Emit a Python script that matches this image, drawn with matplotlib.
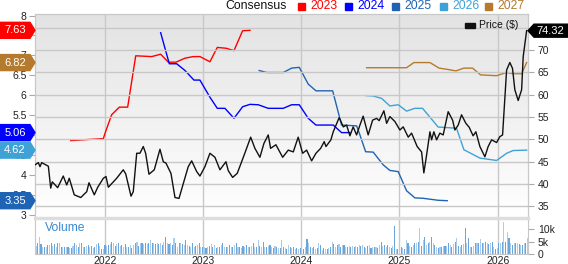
import numpy as np
import pandas as pd
import matplotlib
matplotlib.use("Agg")
import matplotlib.pyplot as plt
from matplotlib.patches import Polygon, Rectangle
from matplotlib.colors import LinearSegmentedColormap
from matplotlib.transforms import IdentityTransform

plt.rcParams["font.family"] = ["Liberation Sans", "DejaVu Sans"]

W, H = 568, 264

# price, decimal years
price_t = [2021.287, 2021.321, 2021.338, 2021.355, 2021.423, 2021.447, 2021.463, 2021.518,
           2021.575, 2021.610, 2021.636, 2021.687, 2021.753, 2021.814, 2021.837, 2021.891,
           2021.926, 2021.983, 2022.010, 2022.034, 2022.119, 2022.186, 2022.211, 2022.265,
           2022.288, 2022.323, 2022.356, 2022.390, 2022.414, 2022.448, 2022.502, 2022.560,
           2022.594, 2022.621, 2022.672, 2022.713, 2022.754, 2022.808, 2022.848, 2022.883,
           2022.934, 2022.967, 2023.018, 2023.069, 2023.120, 2023.171, 2023.232, 2023.256,
           2023.300, 2023.347, 2023.392, 2023.436, 2023.484, 2023.527, 2023.578, 2023.619,
           2023.663, 2023.687, 2023.741, 2023.810, 2023.867, 2023.918, 2023.968, 2024.013,
           2024.054, 2024.105, 2024.149, 2024.197, 2024.233, 2024.251, 2024.301, 2024.325,
           2024.386, 2024.427, 2024.461, 2024.495, 2024.528, 2024.563, 2024.597, 2024.630,
           2024.681, 2024.726, 2024.767, 2024.793, 2024.841, 2024.869, 2024.902, 2024.953,
           2025.004, 2025.038, 2025.089, 2025.123, 2025.180, 2025.225, 2025.248, 2025.276,
           2025.310, 2025.327, 2025.350, 2025.378, 2025.411, 2025.445, 2025.496, 2025.541,
           2025.564, 2025.598, 2025.632, 2025.676, 2025.710, 2025.750, 2025.778, 2025.819,
           2025.870, 2025.903, 2025.938, 2025.989, 2026.022, 2026.050, 2026.091, 2026.124,
           2026.151, 2026.175, 2026.209, 2026.244, 2026.260, 2026.295]
price = [44.3, 44.8, 43.9, 44.8, 44.0, 39.1, 40.5, 39.2,
         41.8, 39.8, 41.3, 37.6, 37.0, 38.3, 40.3, 37.6,
         39.3, 41.3, 41.7, 39.3, 41.3, 43.2, 42.3, 37.3,
         38.3, 46.9, 46.9, 48.4, 46.9, 42.2, 43.2, 47.8,
         45.0, 44.7, 42.4, 37.0, 36.8, 40.9, 43.9, 45.2,
         42.8, 41.8, 43.9, 46.9, 46.0, 43.2, 45.0, 43.0,
         41.5, 42.4, 45.0, 47.6, 50.5, 48.0, 46.0, 49.1,
         51.0, 48.0, 48.8, 46.0, 47.6, 47.2, 50.5, 46.9,
         47.6, 45.2, 46.9, 48.0, 49.5, 48.4, 49.9, 51.7,
         54.9, 52.8, 53.2, 50.8, 52.8, 51.0, 53.2, 55.2,
         51.0, 54.3, 54.7, 54.2, 56.4, 53.6, 55.1, 54.0,
         52.1, 52.8, 50.5, 51.4, 48.4, 47.2, 42.5, 46.5,
         51.7, 49.9, 51.7, 49.9, 51.4, 51.0, 56.2, 54.3,
         52.1, 53.2, 55.5, 53.6, 52.7, 50.8, 51.7, 48.4,
         46.1, 48.4, 49.9, 49.3, 50.6, 51.0, 65.5, 67.2,
         65.9, 61.1, 58.7, 61.1, 68.5, 74.32]

# consensus EPS by fiscal year
eps23_t = [2021.651, 2021.983, 2022.007, 2022.068, 2022.146, 2022.231, 2022.313, 2022.476,
           2022.567, 2022.645, 2022.723, 2022.815, 2022.899, 2022.967, 2023.069, 2023.144,
           2023.232, 2023.314, 2023.402, 2023.477]
eps23 = [4.86, 4.91, 5.09, 5.51, 5.70, 5.70, 6.99, 6.97,
         7.03, 6.83, 6.83, 6.93, 6.97, 6.97, 6.84, 7.20,
         7.18, 7.12, 7.62, 7.63]

eps24_t = [2022.567, 2022.655, 2022.730, 2022.815, 2022.906, 2022.967, 2023.069, 2023.144,
           2023.222, 2023.314, 2023.402, 2023.477, 2023.561, 2023.663, 2023.816, 2023.901,
           2023.979, 2024.070, 2024.149, 2024.325, 2024.410, 2024.495]
eps24 = [7.57, 6.79, 6.79, 6.62, 6.38, 6.38, 5.95, 5.67,
         5.67, 5.42, 5.71, 5.77, 5.76, 5.67, 5.67, 5.76,
         5.76, 5.42, 5.25, 5.25, 5.06, 5.06]

eps25_t = [2023.571, 2023.647, 2023.816, 2023.901, 2023.979, 2024.070, 2024.149, 2024.319,
           2024.410, 2024.563, 2024.590, 2024.655, 2024.732, 2024.834, 2024.902, 2024.987,
           2025.072, 2025.157, 2025.241, 2025.394, 2025.486]
eps25 = [6.62, 6.57, 6.57, 6.68, 6.70, 6.28, 6.11, 6.11,
         5.25, 5.23, 5.05, 4.58, 4.57, 4.25, 4.11, 4.08,
         3.60, 3.42, 3.41, 3.36, 3.35]

eps26_t = [2024.658, 2024.732, 2024.818, 2024.902, 2024.987, 2025.072, 2025.157, 2025.235,
           2025.394, 2025.581, 2025.656, 2025.819, 2025.989, 2026.091, 2026.158, 2026.295]
eps26 = [5.99, 5.98, 5.92, 5.73, 5.76, 5.60, 5.67, 5.67,
         5.20, 5.17, 4.63, 4.42, 4.36, 4.54, 4.61, 4.62]

eps27_t = [2024.665, 2025.072, 2025.147, 2025.310, 2025.404, 2025.486, 2025.574, 2025.656,
           2025.744, 2025.826, 2025.989, 2026.091, 2026.158, 2026.244, 2026.295]
eps27 = [6.69, 6.69, 6.82, 6.82, 6.68, 6.65, 6.61, 6.68,
         6.68, 6.51, 6.49, 6.57, 6.54, 6.54, 6.82]

# weekly volume, thousands
volume = [3.3, 4.3, 6.8, 4.1, 3.0, 2.7, 3.0, 3.7, 3.7, 4.3, 3.3, 3.9, 3.0, 4.3, 4.6, 2.7,
          3.0, 2.7, 3.0, 2.7, 2.6, 2.3, 3.3, 4.6, 3.7, 3.0, 4.3, 4.3, 2.7, 3.0, 3.3, 3.7,
          2.7, 3.3, 2.6, 3.0, 4.1, 4.3, 3.4, 2.0, 1.9, 3.7, 3.3, 3.7, 3.9, 5.0, 4.3, 3.3,
          3.9, 4.3, 3.4, 3.7, 3.0, 3.9, 3.0, 2.7, 3.7, 2.3, 3.7, 4.6, 5.0, 3.3, 4.3, 4.3,
          3.9, 4.3, 4.1, 4.6, 5.7, 4.3, 4.3, 3.9, 4.3, 3.9, 4.3, 3.7, 5.0, 7.0, 4.3, 3.9,
          4.6, 3.7, 6.4, 4.3, 2.7, 4.6, 4.3, 3.9, 3.7, 5.7, 3.7, 3.4, 2.7, 4.3, 3.0, 3.4,
          3.7, 4.6, 2.7, 2.7, 2.7, 2.3, 3.0, 3.3, 3.9, 3.0, 3.7, 2.3, 2.7, 3.0, 3.7, 4.3,
          3.0, 2.7, 3.0, 3.7, 2.7, 3.0, 3.7, 4.3,
          2.7, 3.0, 2.3, 3.3, 2.7, 3.7, 3.0, 2.7, 3.3, 4.3, 3.0, 2.7, 5.7, 3.3, 3.0, 5.0,
          3.0, 2.7, 3.3, 3.7, 3.0, 2.3, 3.3, 2.7,
          2.3, 2.3, 5.7, 2.7, 2.6, 1.9, 3.7, 3.0, 2.3, 3.0, 2.0, 2.3, 1.9, 2.3, 2.7, 1.9,
          3.0, 6.0, 4.6, 2.7, 2.3, 2.7, 1.9, 2.3, 4.6, 3.7, 1.6, 2.3, 1.9, 1.9, 2.3, 3.0,
          5.0, 3.9, 3.0, 3.7, 3.9, 3.0, 3.7, 3.7, 3.0, 2.7, 3.3, 2.7, 3.3, 3.0, 3.4, 3.0,
          3.7, 3.3, 3.7, 3.0, 2.6, 3.3, 3.7, 2.6, 3.0, 3.0, 2.7, 2.3, 3.7, 5.0, 3.3, 3.7,
          3.0, 3.7, 2.7, 2.3, 3.3, 11.4, 1.9, 2.0, 2.3, 2.7, 2.3, 1.9, 5.7, 4.3, 3.3, 2.7,
          3.7, 4.3, 4.6, 5.0, 10.4, 3.3, 5.7, 7.0, 3.7, 4.3, 5.0, 7.0, 4.3, 3.7, 2.7, 2.3,
          2.7, 3.0, 3.3, 3.4, 3.4, 4.3, 3.7, 3.0, 4.1, 5.0, 6.4, 3.3, 3.0, 3.7, 3.9, 10.4,
          4.3, 6.4, 3.0, 3.0, 3.3, 4.3, 4.3, 4.3, 6.0, 4.6, 4.3, 5.0, 4.3, 3.9, 4.6, 5.0,
          3.0, 1.9, 2.3, 4.6, 4.3, 5.0, 13.1, 5.0, 9.1, 6.4, 4.3, 3.7, 4.3, 4.6, 4.3, 3.9,
          3.7, 3.7, 4.3, 4.6, 6.4]

years = [2022, 2023, 2024, 2025, 2026]
price_ticks = [35, 40, 45, 50, 55, 60, 65, 70, 75]
eps_ticks = [3, 3.5, 4, 4.5, 5, 5.5, 6, 6.5, 7, 7.5, 8]
vol_ticks = [0, 5, 10]
vol_labels = ["0", "5k", "10k"]

series = [("2023", eps23_t, eps23, "#ff0000"),
          ("2024", eps24_t, eps24, "#0000ff"),
          ("2025", eps25_t, eps25, "#1f64b4"),
          ("2026", eps26_t, eps26, "#3fa2d6"),
          ("2027", eps27_t, eps27, "#b57a2e")]


def fx(x):
    return x / W


def fy(y):
    return 1 - y / H


fig = plt.figure(figsize=(W / 100, H / 100), dpi=100)
rect = [fx(35), fy(217), 493 / W, 203 / H]
XLIM = (2021.287, 2026.309)

# gradient background
bg = fig.add_axes(rect, zorder=-1)
grad = LinearSegmentedColormap.from_list("bg", ["#ffffff", "#e3e3e3"])
bg.imshow(np.linspace(0, 1, 200).reshape(-1, 1), aspect="auto", cmap=grad,
          origin="lower", extent=[0, 1, 0, 1])
bg.axis("off")

ax = fig.add_axes(rect)
ax.patch.set_alpha(0)
axp = ax.twinx()

ax.set_xlim(*XLIM)
ax.set_ylim(2.94, 8.04)
axp.set_ylim(32.64, 78.05)

for name, t, v, c in series:
    ax.plot(t, v, color=c, lw=1.0, zorder=3)
axp.plot(price_t, price, color="#111111", lw=1.0, zorder=4)

ax.set_xticks(years)
ax.tick_params(axis="x", length=0, labelbottom=False)
ax.grid(axis="x", color="#c8c8c8", lw=1)
ax.set_yticks(eps_ticks)
ax.set_yticklabels(["%g" % e for e in eps_ticks])
ax.tick_params(axis="y", length=4, width=0.8, color="#aaaaaa", pad=2,
               labelsize=7.5, labelcolor="#222222")

axp.set_yticks(price_ticks)
axp.tick_params(axis="y", length=4, width=0.8, color="#aaaaaa", pad=3,
                labelsize=7.5, labelcolor="#222222")
axp.grid(axis="y", color="#c8c8c8", lw=1)
axp.set_axisbelow(True)

for a in (ax, axp):
    for s in ("left", "right", "top"):
        a.spines[s].set_color("#c8c8c8")
    a.spines["bottom"].set_visible(False)

# volume panel
axv = fig.add_axes([fx(35), fy(254), 493 / W, 36 / H])
vol_dates = np.linspace(XLIM[0] + 0.01, XLIM[1] - 0.005, len(volume))
vcol = ["#6aa6da" if i % 2 else "#aacdee" for i in range(len(volume))]
axv.bar(vol_dates, volume, width=0.011, color=vcol, zorder=2)
axv.set_xlim(*XLIM)
axv.set_ylim(0, 14.6)
axv.set_xticks(years)
axv.set_xticklabels([str(y) for y in years])
axv.tick_params(axis="x", length=0, pad=1.5, labelsize=7.5, labelcolor="#222222")
axv.grid(axis="x", color="#c8c8c8", lw=1)
axv.set_axisbelow(True)
axv.yaxis.tick_right()
axv.set_yticks(vol_ticks)
axv.set_yticklabels(vol_labels)
axv.tick_params(axis="y", length=4, width=0.8, color="#aaaaaa", pad=3,
                labelsize=7.5, labelcolor="#222222")
for s in ("left", "right", "bottom"):
    axv.spines[s].set_color("#c8c8c8")
axv.spines["top"].set_color("#dddddd")
axv.spines["top"].set_linewidth(2.5)
fig.text(fx(45), fy(228), "Volume", color="#3a8ad0", fontsize=8.7, va="center")

# header legend
fig.text(fx(225), fy(6), "Consensus", fontsize=8.8, va="center", color="#111111")
hx = [297.5, 344.5, 391.5, 439.5, 485.0]
for (name, t, v, c), x0 in zip(series, hx):
    fig.add_artist(Rectangle((fx(x0), fy(9.5)), 7 / W, 7 / H, color=c,
                             transform=fig.transFigure))
    fig.text(fx(x0 + 12.5), fy(6), name, color=c, fontsize=8.8, va="center")

# price legend inside plot
fig.add_artist(Rectangle((fx(465), fy(27.5)), 10 / W, 5 / H, color="#111111",
                         transform=fig.transFigure))
fig.text(fx(479), fy(25.5), "Price ($)", fontsize=7.5, va="center", color="#111111")

fig.canvas.draw()


# value tags on the left (last consensus values)
def left_tag(val, color):
    yc = ax.transData.transform((XLIM[0], val))[1]
    h = 8
    pts = [(0, yc - h), (30, yc - h), (35, yc), (30, yc + h), (0, yc + h)]
    fig.add_artist(Polygon(pts, closed=True, color=color, transform=IdentityTransform(),
                           zorder=10))
    fig.text(15 / W, yc / H, "%.2f" % val, color="white", fontsize=8,
             ha="center", va="center", zorder=11)


for name, t, v, c in series:
    left_tag(v[-1], c)

# last price tag on the right
yc = axp.transData.transform((XLIM[1], price[-1]))[1]
h = 6.5
pts = [(528, yc), (534, yc - h), (W, yc - h), (W, yc + h), (534, yc + h)]
fig.add_artist(Polygon(pts, closed=True, color="#000000", transform=IdentityTransform(),
                       zorder=10))
fig.text(550 / W, yc / H, "%.2f" % price[-1], color="white", fontsize=8,
         ha="center", va="center", zorder=11)

fig.savefig("out.png", dpi=100)
